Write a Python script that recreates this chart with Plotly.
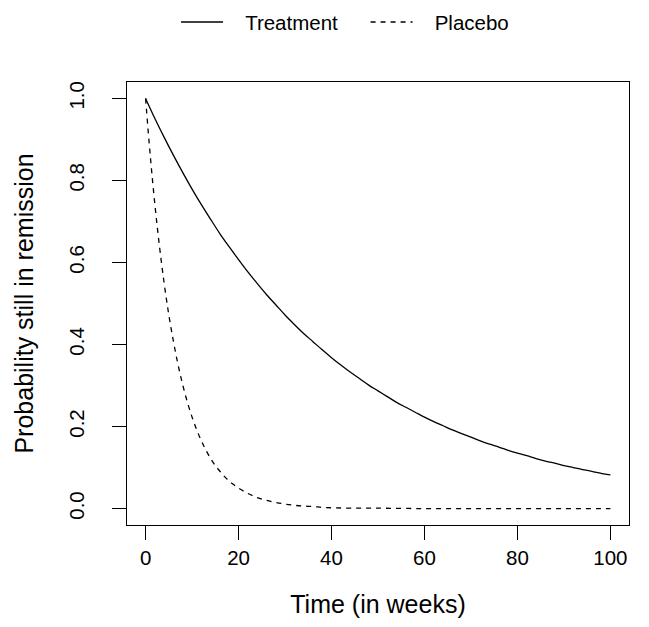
import plotly.graph_objects as go

# Treatment curve
treat_t = [0, 2, 4, 6, 8, 10, 12, 14, 16, 18, 20, 22, 24, 26, 28, 30, 32, 34, 36, 38, 40,
           42, 44, 46, 48, 50, 52, 54, 56, 58, 60, 62, 64, 66, 68, 70, 72, 74, 76, 78, 80,
           82, 84, 86, 88, 90, 92, 94, 96, 98, 100]
treat_p = [1.000, 0.951, 0.905, 0.861, 0.819, 0.779, 0.741, 0.705, 0.670, 0.638, 0.607,
           0.577, 0.549, 0.522, 0.497, 0.472, 0.449, 0.427, 0.407, 0.387, 0.368,
           0.350, 0.333, 0.317, 0.301, 0.287, 0.273, 0.259, 0.247, 0.235, 0.223,
           0.212, 0.202, 0.192, 0.183, 0.174, 0.165, 0.157, 0.150, 0.142, 0.135,
           0.129, 0.122, 0.116, 0.111, 0.105, 0.100, 0.095, 0.091, 0.086, 0.082]

# Placebo curve
plac_t = [0, 1, 2, 3, 4, 5, 6, 7, 8, 9, 10, 11, 12, 13, 14, 15, 16, 17, 18, 19, 20,
          22, 24, 26, 28, 30, 32, 34, 36, 38, 40, 45, 50, 60, 70, 80, 90, 100]
plac_p = [1.000, 0.861, 0.741, 0.638, 0.549, 0.472, 0.407, 0.350, 0.301, 0.259, 0.223,
          0.192, 0.165, 0.142, 0.122, 0.105, 0.091, 0.078, 0.067, 0.058, 0.050,
          0.037, 0.027, 0.020, 0.015, 0.011, 0.008, 0.006, 0.005, 0.003, 0.002,
          0.001, 0.001, 0.000, 0.000, 0.000, 0.000, 0.000]

x_ticks = [0, 20, 40, 60, 80, 100]
y_ticks = [0.0, 0.2, 0.4, 0.6, 0.8, 1.0]
y_tick_text = ["0.0", "0.2", "0.4", "0.6", "0.8", "1.0"]
series_names = ["Treatment", "Placebo"]

FONT = "Liberation Sans, Arial, Helvetica, sans-serif"
NB = "\u00a0"

fig = go.Figure()
fig.add_trace(go.Scatter(x=treat_t, y=treat_p, mode="lines",
                         name=NB * 3 + series_names[0] + NB * 4,
                         line=dict(color="black", width=1.3, shape="spline")))
fig.add_trace(go.Scatter(x=plac_t, y=plac_p, mode="lines",
                         name=NB * 3 + series_names[1],
                         line=dict(color="black", width=1.3, dash="5px,5px", shape="spline")))

fig.update_layout(
    width=649, height=627,
    margin=dict(l=119, r=28, t=74, b=110, autoexpand=False),
    paper_bgcolor="white", plot_bgcolor="white",
    font=dict(family=FONT, size=20.5, color="black"),
    showlegend=True,
    legend=dict(orientation="h", x=0.0977, xanchor="left",
                y=1.135, yanchor="middle",
                font=dict(size=20.5), itemwidth=42,
                bgcolor="rgba(0,0,0,0)"),
    xaxis=dict(range=[-4, 104], tickvals=x_ticks, ticks="outside", ticklen=14,
               tickwidth=1, tickcolor="black", showline=True, linecolor="black",
               linewidth=1, mirror=True, showgrid=False, zeroline=False,
               title=dict(text="Time (in weeks)", standoff=27)),
    yaxis=dict(range=[-0.04, 1.04], tickvals=y_ticks, ticktext=y_tick_text,
               ticks="outside", ticklen=14, tickwidth=1, tickcolor="black",
               tickangle=-90, ticklabelstandoff=20, showline=True, linecolor="black",
               linewidth=1, mirror=True, showgrid=False, zeroline=False,
               title=dict(text="Probability still in remission", standoff=24)),
)

fig.write_html("out.html")
